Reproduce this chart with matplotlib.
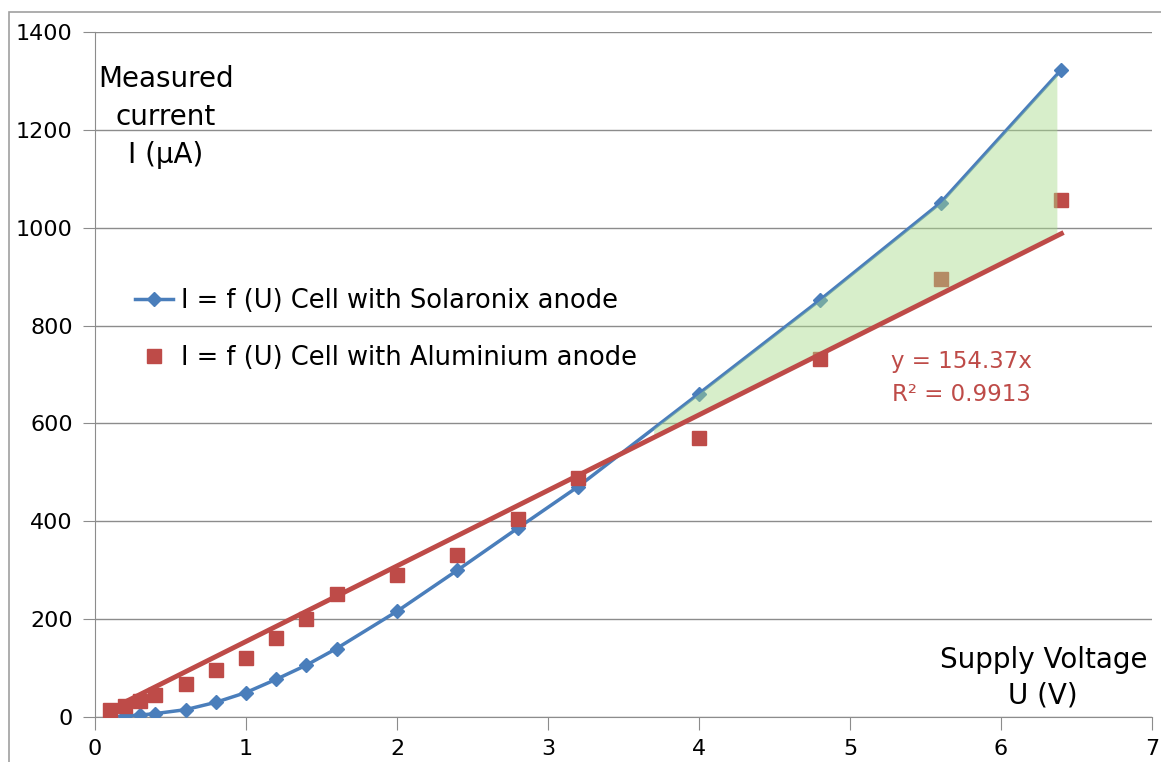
import numpy as np
import matplotlib
matplotlib.use('Agg')
import matplotlib.pyplot as plt
from matplotlib.patches import Rectangle

# supply voltage (V)
voltage = [0.1, 0.2, 0.3, 0.4, 0.6, 0.8, 1.0, 1.2, 1.4, 1.6, 2.0, 2.4, 2.8, 3.2, 4.0, 4.8, 5.6, 6.4]
# measured current (uA)
i_solaronix = [0, 2, 4, 7, 15, 30, 50, 77, 106, 140, 216, 300, 386, 471, 661, 852, 1051, 1323]
i_aluminium = [14, 23, 33, 45, 67, 96, 120, 161, 200, 251, 290, 331, 405, 488, 571, 732, 896, 1056]
trend_slope = 154.37
trend_r2 = 0.9913
x_ticks = [0, 1, 2, 3, 4, 5, 6, 7]
y_ticks = [0, 200, 400, 600, 800, 1000, 1200, 1400]

blue = '#4a7ebb'
red = '#be4b48'
grey = '#8c8c8c'

plt.rcParams['font.family'] = ['DejaVu Sans']

fig = plt.figure(figsize=(11.61, 7.62), dpi=100)
ax = fig.add_axes([95/1161, 1-717/762, (1152-95)/1161, (717-32)/762])

# outer chart frame
fig.patches.append(Rectangle((9/1161, -0.2), 1.2, 1.2 - 12/762, transform=fig.transFigure,
                             fill=False, edgecolor='#a0a0a0', linewidth=1.2))

x = np.array(voltage)
ax.plot(x, i_solaronix, color=blue, lw=2.5, marker='D', ms=7, zorder=3,
        label='I = f (U) Cell with Solaronix anode')
ax.plot(x, i_aluminium, ls='none', color=red, marker='s', ms=10.5, zorder=3,
        label='I = f (U) Cell with Aluminium anode')

# linear trendline through origin
xt = np.array([min(voltage), max(voltage)])
ax.plot(xt, trend_slope * xt, color=red, lw=3.5, zorder=5)

# shaded gap between the measured curve and the trendline
xf = np.linspace(3.7, 6.37, 200)
top = np.interp(xf, x, i_solaronix)
bot = trend_slope * xf + 6
ax.fill_between(xf, bot, top, where=top > bot, color='#a8da8a', alpha=0.45, lw=0, zorder=4)

ax.text(5.74, 693, 'y = 154.37x\nR² = %.4f' % trend_r2, color=red, fontsize=16.5,
        ha='center', va='center', linespacing=1.55)
ax.text(0.47, 1227, 'Measured\ncurrent\nI (µA)', fontsize=20, ha='center', va='center',
        linespacing=1.45)
ax.text(6.28, 80, 'Supply Voltage\nU (V)', fontsize=20, ha='center', va='center',
        linespacing=1.35)

ax.set_xlim(0, 7)
ax.set_ylim(0, 1400)
ax.set_xticks(x_ticks)
ax.set_yticks(y_ticks)
ax.tick_params(labelsize=16, length=9, color=grey, direction='out', pad=7)
ax.yaxis.grid(True, color=grey, lw=1)
ax.set_axisbelow(True)
for s in ['top', 'right']:
    ax.spines[s].set_visible(False)
for s in ['left', 'bottom']:
    ax.spines[s].set_color(grey)

ax.legend(loc='upper left', bbox_to_anchor=(0.0155, 0.66), frameon=False, fontsize=18.5,
          handlelength=1.5, handletextpad=0.3, labelspacing=1.2)

fig.savefig('out.png', dpi=100)
